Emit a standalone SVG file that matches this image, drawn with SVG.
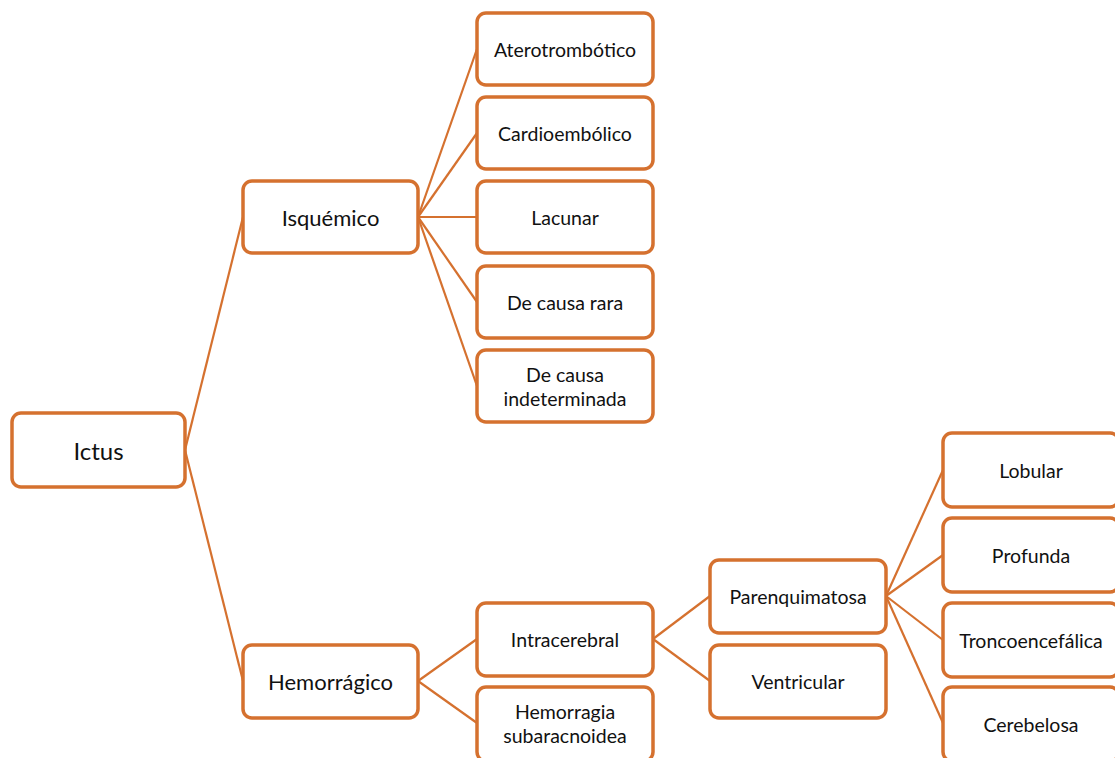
<svg xmlns="http://www.w3.org/2000/svg" width="1115" height="758" viewBox="0 0 1115 758">
  <style>
    .box { fill: #ffffff; stroke: #D5712F; stroke-width: 3.5; }
    .link { fill: none; stroke: #D5712F; stroke-width: 2.2; }
    text { font-family: Lato, "Open Sans", sans-serif; fill: #111111; text-anchor: middle; dominant-baseline: central; }
    .l0 { font-size: 24px; }
    .l1 { font-size: 22px; }
    .lx { font-size: 19.5px; }
  </style>
  <rect width="1115" height="758" fill="#ffffff"/>

  <g id="connectors">
    <line class="link" x1="185" y1="450" x2="243" y2="217"/>
    <line class="link" x1="185" y1="450" x2="243" y2="681"/>
    <line class="link" x1="418" y1="217" x2="477" y2="49"/>
    <line class="link" x1="418" y1="217" x2="477" y2="133"/>
    <line class="link" x1="418" y1="217" x2="477" y2="217"/>
    <line class="link" x1="418" y1="217" x2="477" y2="302"/>
    <line class="link" x1="418" y1="217" x2="477" y2="386"/>
    <line class="link" x1="418" y1="681" x2="477" y2="639"/>
    <line class="link" x1="418" y1="681" x2="477" y2="723"/>
    <line class="link" x1="653" y1="639" x2="710" y2="596"/>
    <line class="link" x1="653" y1="639" x2="710" y2="681"/>
    <line class="link" x1="886" y1="596" x2="943" y2="470"/>
    <line class="link" x1="886" y1="596" x2="943" y2="555"/>
    <line class="link" x1="886" y1="596" x2="943" y2="640"/>
    <line class="link" x1="886" y1="596" x2="943" y2="723"/>
  </g>

  <g id="ictus">
    <rect class="box" x="12" y="413" width="173" height="74" rx="9"/>
    <text class="l0" x="98.5" y="450">Ictus</text>
  </g>

  <g id="isquemico">
    <rect class="box" x="243" y="181" width="175" height="72" rx="9"/>
    <text class="l1" x="330.5" y="217">Isquémico</text>
  </g>
  <g id="aterotrombotico">
    <rect class="box" x="477" y="13" width="176" height="72" rx="9"/>
    <text class="lx" x="565" y="49">Aterotrombótico</text>
  </g>
  <g id="cardioembolico">
    <rect class="box" x="477" y="97" width="176" height="72" rx="9"/>
    <text class="lx" x="565" y="133">Cardioembólico</text>
  </g>
  <g id="lacunar">
    <rect class="box" x="477" y="181" width="176" height="72" rx="9"/>
    <text class="lx" x="565" y="217">Lacunar</text>
  </g>
  <g id="causa-rara">
    <rect class="box" x="477" y="266" width="176" height="72" rx="9"/>
    <text class="lx" x="565" y="302">De causa rara</text>
  </g>
  <g id="causa-indeterminada">
    <rect class="box" x="477" y="350" width="176" height="72" rx="9"/>
    <text class="lx" x="565" y="374">De causa</text>
    <text class="lx" x="565" y="398">indeterminada</text>
  </g>

  <g id="hemorragico">
    <rect class="box" x="243" y="645" width="175" height="73" rx="9"/>
    <text class="l1" x="330.5" y="681">Hemorrágico</text>
  </g>
  <g id="intracerebral">
    <rect class="box" x="477" y="603" width="176" height="73" rx="9"/>
    <text class="lx" x="565" y="639">Intracerebral</text>
  </g>
  <g id="subaracnoidea">
    <rect class="box" x="477" y="687" width="176" height="74" rx="9"/>
    <text class="lx" x="565" y="711">Hemorragia</text>
    <text class="lx" x="565" y="735">subaracnoidea</text>
  </g>
  <g id="parenquimatosa">
    <rect class="box" x="710" y="560" width="176" height="73" rx="9"/>
    <text class="lx" x="798" y="596">Parenquimatosa</text>
  </g>
  <g id="ventricular">
    <rect class="box" x="710" y="645" width="176" height="73" rx="9"/>
    <text class="lx" x="798" y="681">Ventricular</text>
  </g>
  <g id="lobular">
    <rect class="box" x="943" y="433" width="176" height="74" rx="9"/>
    <text class="lx" x="1031" y="470">Lobular</text>
  </g>
  <g id="profunda">
    <rect class="box" x="943" y="518" width="176" height="74" rx="9"/>
    <text class="lx" x="1031" y="555">Profunda</text>
  </g>
  <g id="troncoencefalica">
    <rect class="box" x="943" y="603" width="176" height="74" rx="9"/>
    <text class="lx" x="1031" y="640">Troncoencefálica</text>
  </g>
  <g id="cerebelosa">
    <rect class="box" x="943" y="687" width="176" height="74" rx="9"/>
    <text class="lx" x="1031" y="724">Cerebelosa</text>
  </g>
</svg>
